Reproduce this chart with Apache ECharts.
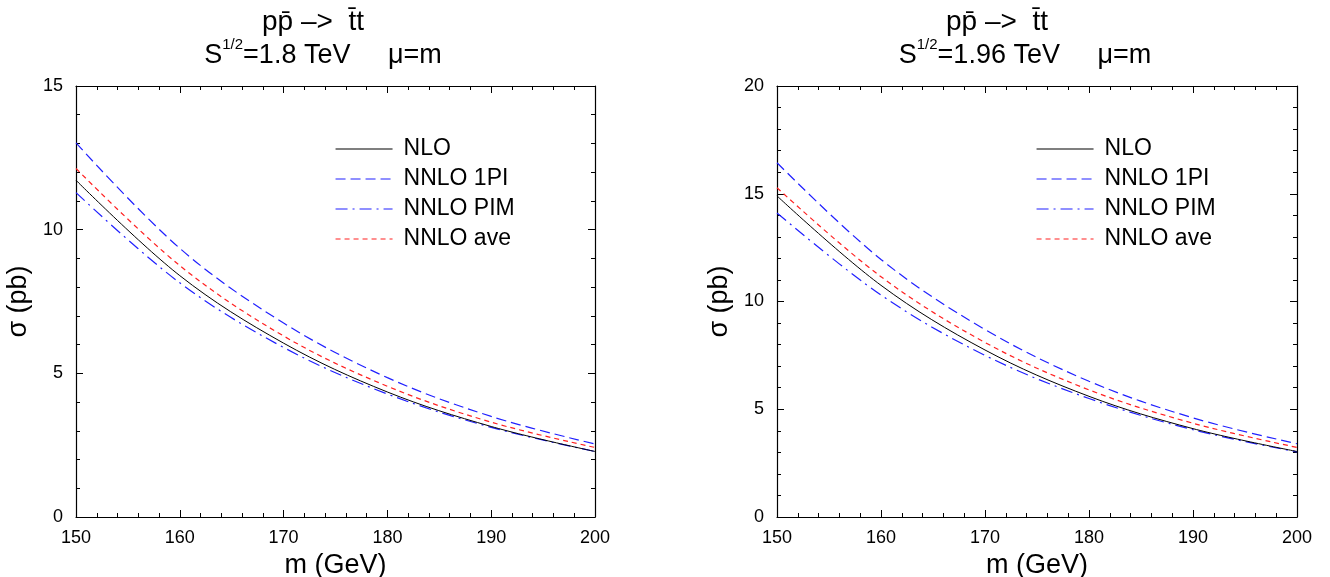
<!DOCTYPE html>
<html><head><meta charset="utf-8">
<script src="https://cdn.jsdelivr.net/npm/echarts@6/dist/echarts.min.js"></script>
<style>html,body{margin:0;padding:0;background:#fff}#c{width:1330px;height:577px}</style>
</head><body><div id="c"></div>
<script>
// top-quark mass (GeV)
const masses = [150, 160, 170, 180, 190, 200];
// sqrt(S) = 1.8 TeV
const nlo18   = [11.72, 8.40, 6.05, 4.35, 3.15, 2.28];
const nnlo1pi18 = [13.02, 9.35, 6.75, 4.85, 3.50, 2.54];
const nnloPim18 = [11.29, 8.15, 5.90, 4.28, 3.12, 2.28];
const nnloAve18 = [12.13, 8.75, 6.30, 4.55, 3.30, 2.42];
// sqrt(S) = 1.96 TeV
const nlo196   = [14.90, 10.75, 7.75, 5.60, 4.10, 3.04];
const nnlo1pi196 = [16.44, 11.95, 8.70, 6.30, 4.60, 3.40];
const nnloPim196 = [14.11, 10.30, 7.50, 5.50, 4.05, 3.02];
const nnloAve196 = [15.28, 11.15, 8.10, 5.90, 4.35, 3.23];
const seriesNames = ['NLO', 'NNLO 1PI', 'NNLO PIM', 'NNLO ave'];
const xTicks = [150, 160, 170, 180, 190, 200];

const FONT = '"Liberation Sans", Arial, sans-serif';
const BLUE = '#2020ff', RED = '#ff2020';
const styles = [
  {color: '#000', type: 'solid', width: 1},
  {color: BLUE, type: [10, 5], width: 1.2},
  {color: BLUE, type: [12, 5, 2, 5], width: 1.2},
  {color: RED, type: [5, 4], width: 1.2}
];
const pair = arr => masses.map((m, i) => [m, arr[i]]);

const chart = echarts.init(document.getElementById('c'), null, {renderer: 'canvas'});

function xAx(grid, pos, main) {
  return {
    type: 'value', gridIndex: grid, position: pos, min: 150, max: 200, interval: 10,
    axisLine: {show: true, onZero: false, lineStyle: {color: '#000', width: 1.2}},
    axisTick: {show: true, inside: true, length: 7, lineStyle: {color: '#000'}},
    minorTick: {show: true, splitNumber: 5, length: 4, lineStyle: {color: '#000'}},
    splitLine: {show: false}, minorSplitLine: {show: false},
    axisLabel: {show: main, color: '#000', fontSize: 18, fontFamily: FONT, margin: 12,
      formatter: v => xTicks.includes(v) ? String(v) : ''},
    name: main ? 'm (GeV)' : '', nameLocation: 'middle', nameGap: 24,
    nameTextStyle: {color: '#000', fontSize: 27, fontFamily: FONT}
  };
}
function yAx(grid, pos, main, max) {
  return {
    type: 'value', gridIndex: grid, position: pos, min: 0, max: max, interval: 5,
    axisLine: {show: true, onZero: false, lineStyle: {color: '#000', width: 1.2}},
    axisTick: {show: true, inside: true, length: 7, lineStyle: {color: '#000'}},
    minorTick: {show: true, splitNumber: 5, length: 4, lineStyle: {color: '#000'}},
    splitLine: {show: false}, minorSplitLine: {show: false},
    axisLabel: {show: main, color: '#000', fontSize: 18, fontFamily: FONT, margin: 13},
    name: main ? 'σ (pb)' : '', nameLocation: 'middle', nameGap: 44,
    nameTextStyle: {color: '#000', fontSize: 27, fontFamily: FONT}
  };
}

function makeSeries(grid, xi, yi, sets) {
  return sets.map((d, k) => ({
    name: seriesNames[k], type: 'line', xAxisIndex: xi, yAxisIndex: yi,
    data: pair(d), smooth: 0.35, symbol: 'none', showSymbol: false,
    lineStyle: styles[k], itemStyle: {color: styles[k].color}, z: 10 - k
  }));
}

function legend(left) {
  return {
    orient: 'vertical', left: left, top: 131, itemWidth: 57, itemHeight: 14, itemGap: 4,
    data: seriesNames, selectedMode: false,
    itemStyle: {opacity: 0},
    lineStyle: {width: 1.1},
    textStyle: {color: '#000', fontSize: 23, fontFamily: FONT, padding: [0, 0, 0, 6], lineHeight: 26}
  };
}

function title(cx1, cx2, line1, energy) {
  return [
    {type: 'text', x: cx1, y: 22, style: {text: line1, fontSize: 28, fontFamily: FONT, fill: '#000', textAlign: 'center', textVerticalAlign: 'middle'}},
    {type: 'text', x: cx2, y: 53, style: {
      text: '{a|S}{s|1/2}{a|=' + energy + ' TeV     μ=m}',
      textAlign: 'center', textVerticalAlign: 'middle', fill: '#000',
      rich: {a: {fontSize: 27, fontFamily: FONT, lineHeight: 32, verticalAlign: 'bottom'},
             s: {fontSize: 15, fontFamily: FONT, lineHeight: 32, verticalAlign: 'top'}}
    }}
  ];
}

chart.setOption({
  backgroundColor: '#fff',
  animation: false,
  grid: [
    {left: 76, top: 86, width: 519, height: 431, containLabel: false, outerBoundsMode: 'none'},
    {left: 777, top: 86, width: 520, height: 431, containLabel: false, outerBoundsMode: 'none'}
  ],
  xAxis: [xAx(0, 'bottom', true), xAx(0, 'top', false), xAx(1, 'bottom', true), xAx(1, 'top', false)],
  yAxis: [yAx(0, 'left', true, 15), yAx(0, 'right', false, 15), yAx(1, 'left', true, 20), yAx(1, 'right', false, 20)],
  legend: [legend(330), legend(1031)],
  series: [
    ...makeSeries(0, 0, 0, [nlo18, nnlo1pi18, nnloPim18, nnloAve18]),
    ...makeSeries(1, 2, 2, [nlo196, nnlo1pi196, nnloPim196, nnloAve196])
  ],
  graphic: [
    ...title(313, 323, 'pp̄ –>  t̄t', '1.8'),
    ...title(997, 1025, 'pp̄ –>  t̄t', '1.96')
  ]
});
</script></body></html>
